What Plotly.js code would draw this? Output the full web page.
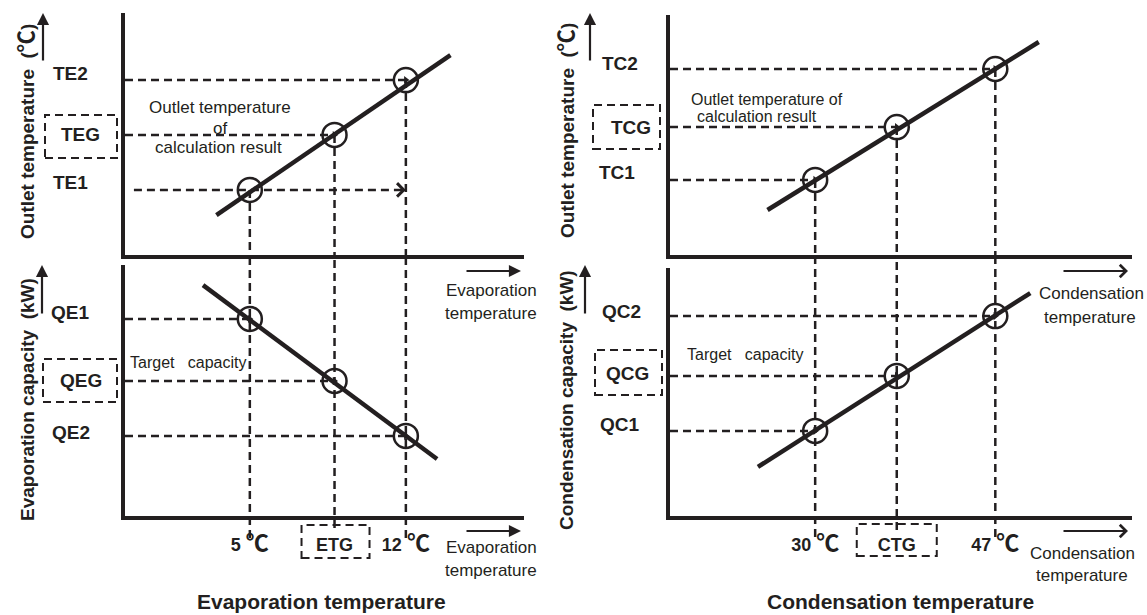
<!DOCTYPE html>
<html><head><meta charset="utf-8">
<script src="https://cdn.plot.ly/plotly-3.0.1.min.js"></script>
<style>html,body{margin:0;padding:0;background:#fff;} #chart{width:1147px;height:615px;}</style>
</head><body><div id="chart"></div>
<script>
// ---------- data (y units are arbitrary 0-100) ----------
const DEG = '<span style="font-size:23px">℃</span>';
const evapTemps = [5, 8.8, 12];                 // 5 ℃, ETG, 12 ℃
const evapTickText = ['5 ' + DEG, 'ETG', '12 ' + DEG];
const evapOutletLevels = [26.9, 49.6, 72.3];    // TE1, TEG, TE2
const evapOutletLabels = ['TE1', 'TEG', 'TE2'];
const evapOutletLineX = [3.5, 14.0];
const evapOutletLineY = [16.5, 82.6];
const evapCapLevels = [78.5, 53.8, 31.9];       // QE1, QEG, QE2
const evapCapLabels = ['QE1', 'QEG', 'QE2'];
const evapCapLineX = [2.9, 13.4];
const evapCapLineY = [92.0, 22.7];

const condTemps = [30, 37.7, 47];               // 30 ℃, CTG, 47 ℃
const condTickText = ['30 ' + DEG, 'CTG', '47 ' + DEG];
const condOutletLevels = [31.3, 53.3, 77.5];    // TC1, TCG, TC2
const condOutletLabels = ['TC1', 'TCG', 'TC2'];
const condOutletLineX = [25.5, 51.1];
const condOutletLineY = [18.75, 88.75];
const condCapLevels = [34.3, 56.5, 80.6];       // QC1, QCG, QC2
const condCapLabels = ['QC1', 'QCG', 'QC2'];
const condCapLineX = [24.6, 50.3];
const condCapLineY = [19.8, 89.9];

const xRangeEvap = [-0.6, 17.3];
const xRangeCond = [16.3, 59.9];
const yRange = [0, 100];

// ---------- styling ----------
const W = 1147, H = 615;
const X = p => p / W, Y = p => 1 - p / H;
const INK = '#231f20';
const FONT = 'Liberation Sans, Arial, Noto Sans CJK JP, sans-serif';
const DASH = '8px,5px';
const DEG_T = '<span style="font-size:22px">℃</span>';

const panels = [
  {xa:'x',  ya:'y',  temps:evapTemps, levels:evapOutletLevels, labels:evapOutletLabels,
   lineX:evapOutletLineX, lineY:evapOutletLineY, xr:xRangeEvap, top:true,
   labelX:[70,80,70], labelShift:[7,0,7], boxIdx:1, box:[45,117,-23,20]},
  {xa:'x2', ya:'y2', temps:evapTemps, levels:evapCapLevels, labels:evapCapLabels,
   lineX:evapCapLineX, lineY:evapCapLineY, xr:xRangeEvap, top:false,
   labelX:[70,81,71], labelShift:[6,0,3], boxIdx:1, box:[43,117,-21,22],
   ext:[-0.088,-0.048,-0.088], ext1:1.04, tickBox:[-33,35,525,558]},
  {xa:'x3', ya:'y3', temps:condTemps, levels:condOutletLevels, labels:condOutletLabels,
   lineX:condOutletLineX, lineY:condOutletLineY, xr:xRangeCond, top:true,
   labelX:[617,631,620], labelShift:[7,0,6], boxIdx:1, box:[593,660,-22,22]},
  {xa:'x4', ya:'y4', temps:condTemps, levels:condCapLevels, labels:condCapLabels,
   lineX:condCapLineX, lineY:condCapLineY, xr:xRangeCond, top:false,
   labelX:[620,627,621], labelShift:[6,2,5], boxIdx:1, box:[595,662,-19,26],
   ext:[-0.085,-0.056,-0.085], ext1:1.052, tickBox:[-40,40,524,556]}
];

const traces = [], shapes = [], annotations = [];

panels.forEach((p, pi) => {
  p.levels.forEach((lv, i) => {
    let special = (pi === 0 && i === 0);
    traces.push({
      x: special ? [p.xr[0] + 0.4, p.temps[2]] : [p.xr[0], p.temps[i]],
      y: [lv, lv], xaxis: p.xa, yaxis: p.ya, mode: 'lines', hoverinfo: 'skip',
      line: {color: INK, width: 2.5, dash: DASH}, showlegend: false
    });
    if (!special) {
      traces.push({
        x: [p.temps[i]], y: [lv], xaxis: p.xa, yaxis: p.ya, mode: 'markers', hoverinfo: 'skip',
        marker: {symbol: 'triangle-right', size: 7, color: INK}, showlegend: false
      });
    } else {
      annotations.push({xref: p.xa, yref: p.ya, x: p.temps[2], y: lv, ax: -10, ay: 0,
        text: '', showarrow: true, arrowhead: 4, arrowsize: 1.3, arrowwidth: 2, arrowcolor: INK});
    }
    annotations.push({xref: 'paper', yref: p.ya, x: X(p.labelX[i]), y: lv, yshift: p.labelShift[i],
      text: p.labels[i], showarrow: false, xanchor: 'center', yanchor: 'middle',
      font: {family: FONT, size: 19, color: INK, weight: 'bold'}});
  });
  shapes.push({type: 'rect', xref: 'paper', yref: p.ya, ysizemode: 'pixel',
    yanchor: p.levels[p.boxIdx], y0: p.box[2], y1: p.box[3],
    x0: X(p.box[0]), x1: X(p.box[1]), line: {color: INK, width: 2, dash: DASH}});
  if (p.top) {
    p.temps.forEach((t, i) => traces.push({
      x: [t, t], y: [p.levels[i], yRange[0]], xaxis: p.xa, yaxis: p.ya, mode: 'lines',
      hoverinfo: 'skip', line: {color: INK, width: 2.5, dash: DASH}, showlegend: false
    }));
  } else {
    p.temps.forEach((t, i) => shapes.push({
      type: 'line', xref: p.xa, yref: p.ya + ' domain', x0: t, x1: t, y0: p.ext[i], y1: p.ext1,
      line: {color: INK, width: 2.5, dash: DASH}
    }));
    shapes.push({type: 'rect', xref: p.xa, xsizemode: 'pixel', xanchor: p.temps[1],
      x0: p.tickBox[0], x1: p.tickBox[1], yref: 'paper', y0: Y(p.tickBox[3]), y1: Y(p.tickBox[2]),
      line: {color: INK, width: 2, dash: DASH}});
  }
  traces.push({x: p.lineX, y: p.lineY, xaxis: p.xa, yaxis: p.ya, mode: 'lines', hoverinfo: 'skip',
    line: {color: INK, width: 4.5}, showlegend: false});
  traces.push({x: p.temps, y: p.levels, xaxis: p.xa, yaxis: p.ya, mode: 'markers', hoverinfo: 'skip',
    marker: {symbol: 'circle-open', size: 24, line: {color: INK, width: 2.5}, color: INK},
    showlegend: false, cliponaxis: false});
});

function txt(x, y, s, size, bold, extra) {
  return Object.assign({xref: 'paper', yref: 'paper', x: X(x), y: Y(y), text: s, showarrow: false,
    xanchor: 'center', yanchor: 'middle',
    font: {family: FONT, size: size, color: INK, weight: bold ? 'bold' : 'normal'}}, extra || {});
}
function arrow(x, y, ax, ay, head) {
  return {xref: 'paper', yref: 'paper', x: X(x), y: Y(y), ax: ax, ay: ay, text: '', showarrow: true,
    arrowhead: head, arrowsize: 1.1, arrowwidth: 2.2, arrowcolor: INK};
}

annotations.push(
  txt(27, 132, 'Outlet temperature\u00a0\u00a0(' + DEG_T + ')', 19, true, {textangle: -90}),
  txt(27, 400, 'Evaporation capacity\u00a0\u00a0(kW)', 19, true, {textangle: -90}),
  txt(566, 131, 'Outlet temperature\u00a0\u00a0(' + DEG_T + ')', 19, true, {textangle: -90}),
  txt(566, 400, 'Condensation capacity\u00a0\u00a0(kW)', 19, true, {textangle: -90}),
  arrow(43, 13, 0, 49, 2), arrow(42, 265, 0, 50, 2),
  arrow(590, 13, 0, 49, 2), arrow(585, 265, 0, 50, 2),
  arrow(521, 271, -56, 0, 2), arrow(521, 531, -56, 0, 2),
  arrow(1128, 271, -66, 0, 4), arrow(1128, 531, -66, 0, 4),
  txt(220, 108, 'Outlet temperature', 17, false),
  txt(220, 128, 'of', 17, false),
  txt(218, 147, 'calculation result', 17, false),
  txt(767, 99, 'Outlet temperature of', 16, false),
  txt(757, 117, 'calculation result', 16, false),
  txt(128, 362, 'Target\u00a0\u00a0 capacity', 16, false, {xanchor: 'left'}),
  txt(685, 354, 'Target\u00a0\u00a0 capacity', 16, false, {xanchor: 'left'}),
  txt(491, 290, 'Evaporation', 17, false), txt(491, 313, 'temperature', 17, false),
  txt(491, 547, 'Evaporation', 17, false), txt(491, 570, 'temperature', 17, false),
  txt(1091, 293, 'Condensation', 17, false), txt(1090, 317, 'temperature', 17, false),
  txt(1082, 553, 'Condensation', 17, false), txt(1082, 575, 'temperature', 17, false),
  txt(321, 601, 'Evaporation temperature', 21, true),
  txt(900, 601, 'Condensation temperature', 21, true)
);

function xAxis(d0, d1, range, anchor, tickvals, ticktext) {
  const a = {domain: [X(d0), X(d1)], range: range, anchor: anchor, showline: true, linewidth: 4,
    linecolor: INK, showgrid: false, zeroline: false, ticks: '', fixedrange: true,
    showticklabels: !!tickvals};
  if (tickvals) Object.assign(a, {tickmode: 'array', tickvals: tickvals, ticktext: ticktext,
    ticklabelstandoff: 9, tickfont: {family: FONT, size: 18, color: INK, weight: 'bold'}});
  return a;
}
function yAxis(top, bottom, anchor) {
  return {domain: [Y(bottom), Y(top)], range: yRange, anchor: anchor, showline: true, linewidth: 4,
    linecolor: INK, showgrid: false, zeroline: false, ticks: '', showticklabels: false, fixedrange: true};
}

const layout = {
  width: W, height: H, margin: {l: 0, r: 0, t: 0, b: 0},
  paper_bgcolor: '#fff', plot_bgcolor: 'rgba(0,0,0,0)', showlegend: false,
  xaxis:  xAxis(125, 524, xRangeEvap, 'y'),
  yaxis:  yAxis(13, 255, 'x'),
  xaxis2: xAxis(125, 524, xRangeEvap, 'y2', evapTemps, evapTickText),
  yaxis2: yAxis(265, 516, 'x2'),
  xaxis3: xAxis(670, 1132, xRangeCond, 'y3'),
  yaxis3: yAxis(15, 255, 'x3'),
  xaxis4: xAxis(670, 1132, xRangeCond, 'y4', condTemps, condTickText),
  yaxis4: yAxis(268, 516, 'x4'),
  shapes: shapes, annotations: annotations
};

Plotly.newPlot('chart', traces, layout, {staticPlot: true, displayModeBar: false});
</script></body></html>
